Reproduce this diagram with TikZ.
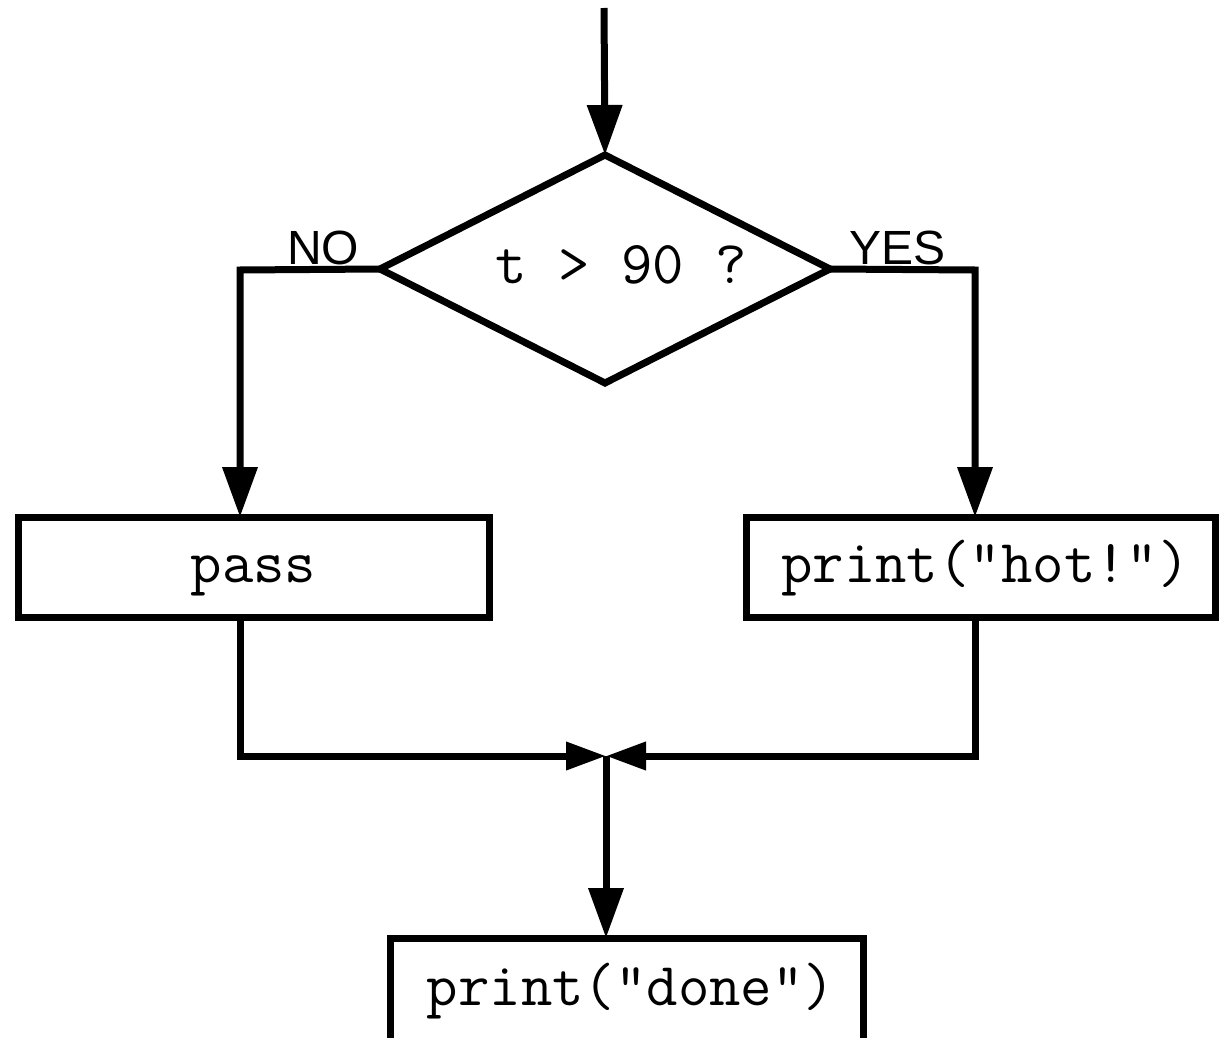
\documentclass[tikz,border=0pt]{standalone}
\usepackage{fontspec}
\newfontfamily\codefont{Latin Modern Mono}
\newfontfamily\labelfont{Liberation Sans}
\usetikzlibrary{shapes.geometric,arrows.meta}
\begin{document}
\begin{tikzpicture}[x=1pt,y=-1pt,
  flow/.style={line width=7pt},
  bigarrow/.style={flow,-{Triangle[length=50pt,width=34pt]}},
  smallarrow/.style={flow,-{Triangle[length=40pt,width=27pt]}},
  stepbox/.style={draw,line width=7pt,rectangle,outer sep=0pt,inner sep=0pt,
     text height=31pt,text depth=0pt,
     font=\codefont\fontsize{61}{68}\selectfont},
  decision/.style={draw,line width=7pt,diamond,outer sep=0pt,inner sep=0pt,
     minimum width=450pt,minimum height=228pt},
  codetext/.style={font=\codefont\fontsize{61}{68}\selectfont,inner sep=0pt,anchor=base},
  branchlabel/.style={font=\labelfont\fontsize{48}{52}\selectfont,inner sep=0pt,anchor=base west}
]
\useasboundingbox (0,0) rectangle (1224,1038);
\clip (0,0) rectangle (1224,1038);
\fill[white] (0,0) rectangle (1224,1038);

\coordinate (start) at (604,8);
\node[decision] (cond) at (605,269) {};
\node[codetext] (condtext) at (621,283) {t > 90 ?};

\node[stepbox,minimum width=471pt,minimum height=100pt] (pass) at (253.5,567) {pass\hspace{16pt}};
\node[stepbox,minimum width=469pt,minimum height=100pt] (hot) at (980.5,567) {\hspace{10pt}print("hot!")};
\node[stepbox,minimum width=473pt,minimum height=104pt] (done) at (626.5,990) {\hspace{9pt}print("done")};

\node[branchlabel] (no) at (287,264) {NO};
\node[branchlabel] (yes) at (849,264) {YES};

\coordinate (lc) at (240,270);
\coordinate (rc) at (975,270);
\coordinate (lm) at (240,756);
\coordinate (rm) at (975,756);
\coordinate (merge) at (606,756);

\draw[bigarrow] (start) -- (cond.north);
\draw[bigarrow] (cond.west) -- (lc) -- (lc |- pass.north);
\draw[bigarrow] (cond.east) -- (rc) -- (rc |- hot.north);
\draw[smallarrow] (lc |- pass.south) -- (lm) -- (merge);
\draw[smallarrow] (rc |- hot.south) -- (rm) -- (merge);
\draw[bigarrow] (merge) -- (merge |- done.north);
\end{tikzpicture}
\end{document}
